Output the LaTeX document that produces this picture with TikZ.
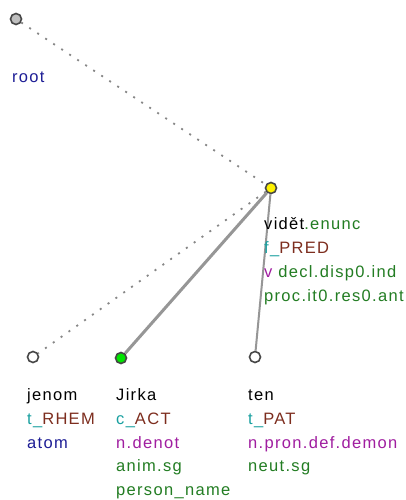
\documentclass[tikz,border=0pt]{standalone}
\usepackage{fontspec}
\setmainfont{Liberation Sans}[LetterSpace=8]
\definecolor{wcol}{RGB}{0,0,0}
\definecolor{fcol}{RGB}{25,160,160}
\definecolor{rcol}{RGB}{125,45,30}
\definecolor{mcol}{RGB}{160,30,160}
\definecolor{gcol}{RGB}{35,125,35}
\definecolor{bcol}{RGB}{30,30,150}
\definecolor{edgecol}{RGB}{150,150,150}
\definecolor{dotcol}{RGB}{135,135,135}
\definecolor{nodeline}{RGB}{70,70,70}
\tikzset{
  x=1pt,y=1pt,
  tnode/.style={circle,draw=nodeline,line width=1.6pt,minimum size=11pt,inner sep=0pt},
  lbl/.style={anchor=base west,inner sep=0pt,font=\fontsize{16.5}{20}\selectfont},
  dotedge/.style={draw=dotcol,line width=1.8pt,dash pattern=on 2pt off 7.6pt},
  solidedge/.style={draw=edgecol,line width=2pt},
  thickedge/.style={draw=edgecol,line width=3pt},
}
\begin{document}
\begin{tikzpicture}
\useasboundingbox[fill=white] (0,0) rectangle (406,-500);
% nodes
\node[tnode,fill=black!25] (root) at (16,-19) {};
\node[tnode,fill=yellow] (videt) at (271,-188) {};
\node[tnode,fill=white] (jenom) at (33,-357) {};
\node[tnode,fill=green!90!black] (jirka) at (121,-358) {};
\node[tnode,fill=white] (ten) at (255,-357) {};
% edges
\draw[dotedge] (root) -- (videt);
\draw[dotedge] (videt) -- (jenom);
\draw[thickedge] (videt) -- (jirka);
\draw[solidedge] (videt) -- (ten);
% labels
\node[lbl,text=bcol] (lroot) at (12,-83) {root};

\node[lbl] (lv1) at (264,-229.5) {\textcolor{wcol}{vidět}\textcolor{gcol}{.enunc}};
\node[lbl] (lv2) at (264,-253.5) {\textcolor{fcol}{f\_}\textcolor{rcol}{PRED}};
\node[lbl] (lv3) at (264,-277.5) {\textcolor{mcol}{v} \textcolor{gcol}{decl.disp0.ind}};
\node[lbl,text=gcol] (lv4) at (264,-301.5) {proc.it0.res0.ant};

\node[lbl] (lj1) at (27,-400) {jenom};
\node[lbl] (lj2) at (27,-424) {\textcolor{fcol}{t\_}\textcolor{rcol}{RHEM}};
\node[lbl,text=bcol] (lj3) at (27,-448) {atom};

\node[lbl] (lk1) at (116,-400) {Jirka};
\node[lbl] (lk2) at (116,-424) {\textcolor{fcol}{c\_}\textcolor{rcol}{ACT}};
\node[lbl,text=mcol] (lk3) at (116,-448) {n.denot};
\node[lbl,text=gcol] (lk4) at (116,-471.5) {anim.sg};
\node[lbl,text=gcol] (lk5) at (116,-495) {person\_name};

\node[lbl] (lt1) at (248,-400) {ten};
\node[lbl] (lt2) at (248,-424) {\textcolor{fcol}{t\_}\textcolor{rcol}{PAT}};
\node[lbl,text=mcol] (lt3) at (248,-448) {n.pron.def.demon};
\node[lbl,text=gcol] (lt4) at (248,-471.5) {neut.sg};
\end{tikzpicture}
\end{document}
